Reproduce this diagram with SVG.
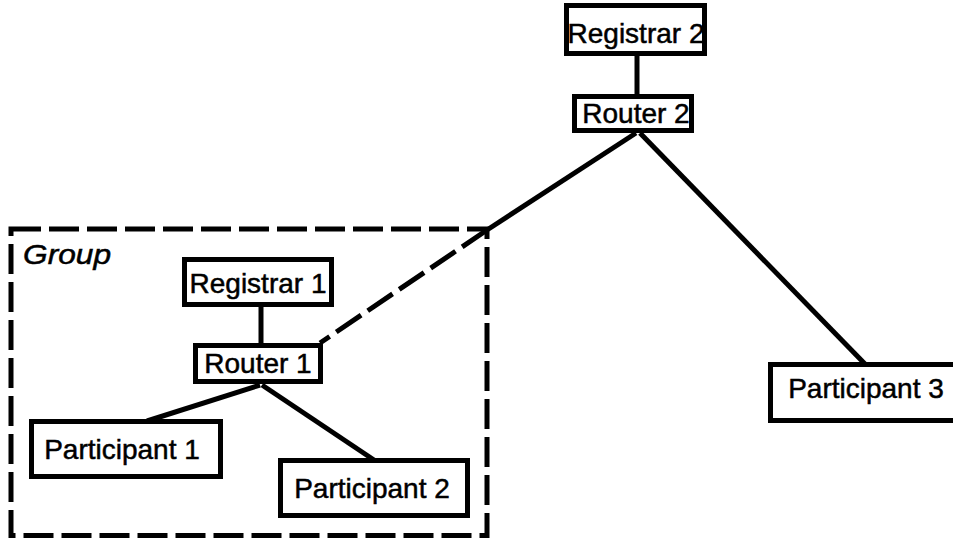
<svg xmlns="http://www.w3.org/2000/svg" width="953" height="538" viewBox="0 0 953 538">
<style>
.box{fill:#fff;stroke:#000;stroke-width:5}
.lbl{font-family:"Liberation Sans",Arial,sans-serif;font-size:28px;fill:#000;stroke:#000;stroke-width:0.5;text-anchor:middle}
.ln{stroke:#000;stroke-width:5;fill:none}
.dash{stroke:#000;stroke-width:5;fill:none;stroke-dasharray:30 8}
</style>
<rect width="953" height="538" fill="#fff"/>
<g id="group">
<rect class="dash" x="11" y="229" width="476" height="306.5"/>
<text x="23" y="264" font-family="Liberation Sans,Arial,sans-serif" font-size="28" font-style="italic" stroke="#000" stroke-width="0.5" textLength="88" lengthAdjust="spacingAndGlyphs">Group</text>
</g>
<g id="connectors">
<line class="ln" x1="637" y1="56" x2="637" y2="94"/>
<line class="ln" x1="636" y1="133" x2="487" y2="230"/>
<line class="dash" x1="487" y1="230" x2="320" y2="343"/>
<line class="ln" x1="640" y1="133" x2="865" y2="364"/>
<line class="ln" x1="261" y1="307" x2="261" y2="343"/>
<line class="ln" x1="260" y1="385" x2="147" y2="421"/>
<line class="ln" x1="262" y1="385" x2="374" y2="460"/>
</g>
<g id="registrar2"><rect class="box" x="566.5" y="5.5" width="138" height="48"/><text class="lbl" x="636" y="43">Registrar 2</text></g>
<g id="router2"><rect class="box" x="574.5" y="96.5" width="117" height="34"/><text class="lbl" x="636" y="123">Router 2</text></g>
<g id="registrar1"><rect class="box" x="184.5" y="259.5" width="147" height="45"/><text class="lbl" x="258" y="293">Registrar 1</text></g>
<g id="router1"><rect class="box" x="195.5" y="345.5" width="125" height="36"/><text class="lbl" x="258" y="373">Router 1</text></g>
<g id="participant1"><rect class="box" x="31.5" y="421.5" width="189" height="55"/><text class="lbl" x="122" y="459">Participant 1</text></g>
<g id="participant2"><rect class="box" x="280.5" y="460.5" width="187" height="55"/><text class="lbl" x="372" y="498">Participant 2</text></g>
<g id="participant3"><rect class="box" x="770.5" y="364.5" width="190" height="56"/><text class="lbl" x="866" y="398">Participant 3</text></g>
</svg>
